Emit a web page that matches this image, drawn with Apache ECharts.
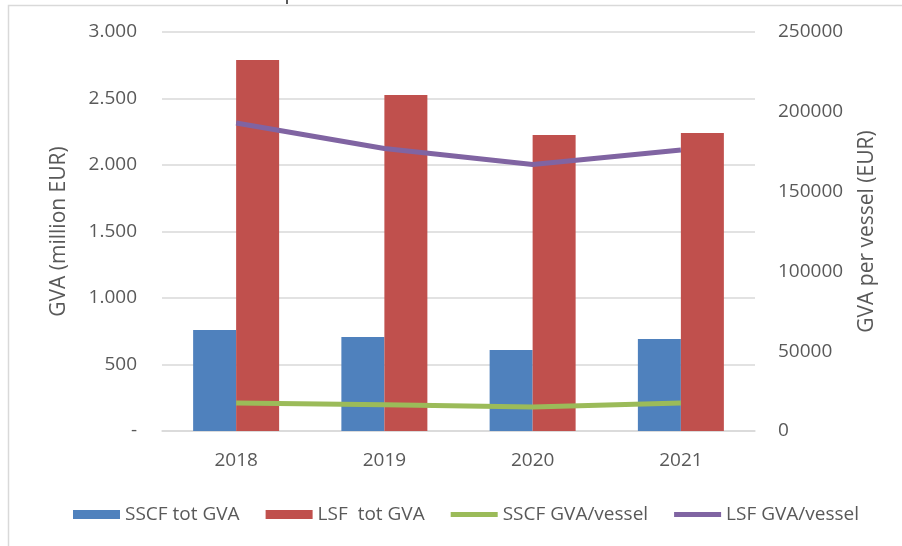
<!DOCTYPE html>
<html>
<head>
<meta charset="utf-8">
<script src="https://cdn.jsdelivr.net/npm/echarts@6/dist/echarts.min.js"></script>
<style>
  html, body { margin: 0; padding: 0; background: #fff; }
  #chart { width: 902px; height: 546px; }
</style>
</head>
<body>
<div id="chart"></div>
<script>
// data
const years = ['2018', '2019', '2020', '2021']
const sscfTotGva = [760, 707, 609, 692]
const lsfTotGva = [2790, 2526, 2226, 2241]
const sscfPerVessel = [17500, 16500, 15000, 17500]
const lsfPerVessel = [193000, 177000, 167000, 176000]
const leftTicks = [0, 500, 1000, 1500, 2000, 2500, 3000]
const rightTicks = [0, 50000, 100000, 150000, 200000, 250000]

const font = 'Open Sans'
const textColor = '#595959'
// thick line icon for the legend, padded so it keeps 5px height inside 9px
const lineIcon = 'path://M0,0L0.01,0L0.01,0.01Z M0,2L47,2L47,7L0,7Z M0,9L0.01,9L0.01,8.99Z'

// 1000 -> "1.000", 0 -> "-"
const fmtLeft = (v) => {
    if (v === 0) return '-'
    return String(v).replace(/\B(?=(\d{3})+(?!\d))/g, '.')
}

const chart = echarts.init(document.getElementById('chart'))
const option = {
    animation: false,
    textStyle: { fontFamily: font, color: textColor },
    color: ['#4F81BD', '#C0504D', '#9BBB59', '#8064A2'],
    grid: { left: 162, right: 147, top: 32, bottom: 115 },
    graphic: [
        {
            type: 'rect',
            shape: { x: 8.5, y: 5.5, width: 900, height: 560 },
            style: { fill: 'none', stroke: '#d9d9d9', lineWidth: 1.5 }
        },
        {
            type: 'line',
            shape: { x1: 287, y1: 0, x2: 287, y2: 4 },
            style: { stroke: '#222', lineWidth: 1.5 }
        }
    ],
    legend: {
        left: 68,
        top: 500,
        itemWidth: 47,
        itemHeight: 9,
        itemGap: 26,
        textStyle: { fontFamily: font, fontSize: 19, color: textColor },
        data: [
            { name: 'SSCF tot GVA', icon: 'rect' },
            { name: 'LSF  tot GVA', icon: 'rect' },
            { name: 'SSCF GVA/vessel', icon: lineIcon },
            { name: 'LSF GVA/vessel', icon: lineIcon }
        ]
    },
    xAxis: {
        type: 'category',
        data: years,
        axisLine: { lineStyle: { color: '#d9d9d9', width: 1.5 } },
        axisTick: { show: false },
        axisLabel: { fontSize: 19, color: textColor, margin: 20, fontFamily: font }
    },
    yAxis: [
        {
            type: 'value',
            min: leftTicks[0],
            max: leftTicks[leftTicks.length - 1],
            interval: 500,
            name: 'GVA (million EUR)',
            nameLocation: 'middle',
            nameGap: 92,
            nameTextStyle: { fontSize: 21, color: textColor, fontFamily: font },
            axisLine: { show: false },
            axisTick: { show: false },
            axisLabel: { fontSize: 19, color: textColor, margin: 25, fontFamily: font, formatter: fmtLeft },
            splitLine: { lineStyle: { color: '#d9d9d9', width: 1.5 } }
        },
        {
            type: 'value',
            min: rightTicks[0],
            max: rightTicks[rightTicks.length - 1],
            interval: 50000,
            name: 'GVA per vessel (EUR)',
            nameLocation: 'middle',
            nameGap: 102,
            nameTextStyle: { fontSize: 21, color: textColor, fontFamily: font },
            axisLine: { show: false },
            axisTick: { show: false },
            axisLabel: { fontSize: 19, color: textColor, margin: 23, fontFamily: font, formatter: (v) => String(v) },
            splitLine: { show: false }
        }
    ],
    series: [
        {
            name: 'SSCF tot GVA',
            type: 'bar',
            barWidth: 43,
            barGap: '0%',
            data: sscfTotGva
        },
        {
            name: 'LSF  tot GVA',
            type: 'bar',
            barWidth: 43,
            barGap: '0%',
            data: lsfTotGva
        },
        {
            name: 'SSCF GVA/vessel',
            type: 'line',
            yAxisIndex: 1,
            symbol: 'none',
            lineStyle: { width: 5 },
            data: sscfPerVessel
        },
        {
            name: 'LSF GVA/vessel',
            type: 'line',
            yAxisIndex: 1,
            symbol: 'none',
            lineStyle: { width: 5 },
            data: lsfPerVessel
        }
    ]
}
chart.setOption(option)
</script>
</body>
</html>
